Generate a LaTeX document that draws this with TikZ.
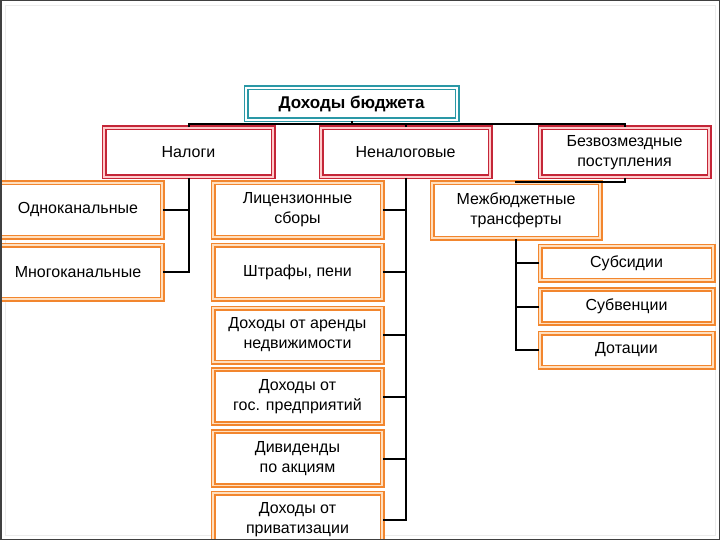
\documentclass[tikz,border=0pt]{standalone}
\usepackage{fontspec}
\setmainfont{Liberation Sans}
\definecolor{tealbox}{RGB}{42,152,166}
\definecolor{redbox}{RGB}{196,38,56}
\definecolor{orangebox}{RGB}{242,134,46}
\begin{document}
\begin{tikzpicture}[x=1pt,y=-1pt,
  box/.style={draw,line width=1.9pt,double distance=1.2pt,align=center,
    inner sep=0pt,font=\fontsize{16}{20}\selectfont,fill=white},
  topbox/.style={box,draw=tealbox,double=white,minimum width=211pt,minimum height=32pt,font=\fontsize{17}{20}\selectfont\bfseries},
  redb/.style={box,draw=redbox,double=red!20,minimum width=169pt,minimum height=49pt},
  orangeb/.style={box,draw=orangebox,double=orange!25,minimum width=169pt,minimum height=54pt},
  smallb/.style={box,draw=orangebox,double=orange!25,minimum width=173pt,minimum height=34pt},
  link/.style={line width=2pt}]
\useasboundingbox (0,0) rectangle (720,540);
\fill[white] (0,0) rectangle (720,540);
\draw[gray!15,line width=0.8pt] (5,5) rectangle (715,535);

\node [topbox] (top) at (351.5,104) {Доходы бюджета};
\node [redb] (nalogi) at (188.5,152.5) {Налоги};
\node [redb] (nenalog) at (405.5,152.5) {Неналоговые};
\node [redb] (bezvozm) at (624.5,152.5) {Безвозмездные\\поступления};

\node [orangeb,minimum width=168pt] (odno) at (78,210) {Одноканальные};
\node [orangeb,minimum width=168pt] (mnogo) at (78,272) {Многоканальные};

\node [orangeb] (licenz) at (297.5,210) {Лицензионные\\сборы};
\node [orangeb] (shtraf) at (297.5,272) {Штрафы, пени};
\node [orangeb] (arenda) at (297.5,335) {Доходы от аренды\\недвижимости};
\node [orangeb] (gos) at (297.5,396.5) {Доходы от\\гос. предприятий};
\node [orangeb] (divid) at (297.5,458.5) {Дивиденды\\по акциям};
\node [orangeb] (privat) at (297.5,520) {Доходы от\\приватизации};

\node [orangeb,minimum width=168pt,minimum height=55pt] (mezhb) at (516,210.5) {Межбюджетные\\трансферты};
\node [smallb] (subs) at (626.5,263) {Субсидии};
\node [smallb] (subv) at (626.5,306.5) {Субвенции};
\node [smallb] (dotac) at (626.5,350) {Дотации};

\coordinate (bus) at (351.5,124);
\draw [link] (top.south) -- (bus);
\draw [link] (nalogi.north) |- (bus) -| (bezvozm.north);
\draw [link] (nenalog.north) -- (nenalog.north |- bus);

\draw [link] (nalogi.south) |- (mnogo.east);
\draw [link] (odno.east) -- (odno.east -| nalogi.south);

\draw [link] (nenalog.south) |- (privat.east);
\foreach \n in {licenz,shtraf,arenda,gos,divid}
  \draw [link] (\n.east) -- (\n.east -| nenalog.south);

\draw [link] (bezvozm.south) -- ++(0,4) -| (mezhb.north);
\draw [link] (mezhb.south) |- (dotac.west);
\foreach \n in {subs,subv}
  \draw [link] (\n.west) -- (\n.west -| mezhb.south);

\draw [black!75,line width=1.5pt] (0.75,0.75) rectangle (719.25,539.25);
\end{tikzpicture}
\end{document}
